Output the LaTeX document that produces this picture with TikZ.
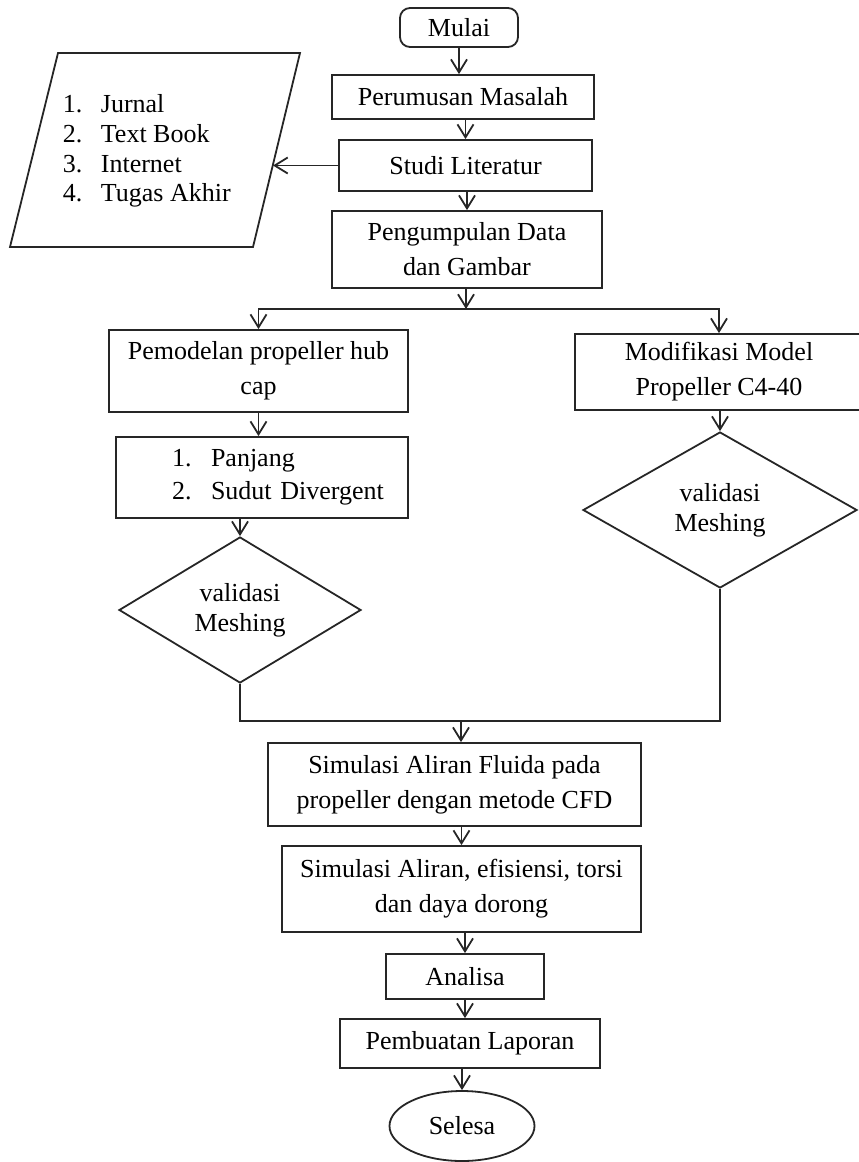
\documentclass[tikz,border=0pt]{standalone}
\usepackage{fontspec}
\setmainfont{Liberation Serif}
\usepackage{tikz}
\usetikzlibrary{shapes.geometric}
\usetikzlibrary{arrows.meta}
\tikzset{process/.style={draw, rectangle, align=center, inner sep=0pt}}
\tikzset{terminal/.style={draw, rounded corners=5pt, inner sep=0pt}}
\tikzset{decision/.style={draw, diamond, aspect=1.66, inner sep=0pt, align=center, font=\fontsize{13}{15}\selectfont}}
\tikzset{every edge/.style={draw}}

\begin{document}
\begin{tikzpicture}[x=0.5pt, y=-0.5pt, line width=0.9pt, draw=black!85, >={Straight Barb[length=6.5pt,width=8pt]}, font=\fontsize{13}{17.5}\selectfont]
  \useasboundingbox (0, 0) rectangle (858, 1162);

  \node[terminal, minimum width=59pt, minimum height=19.5pt] at (459, 27.5) (mulai) {Mulai};
  \node[process, minimum width=131pt, minimum height=22pt] at (463, 97) (perumusan) {Perumusan Masalah};
  \node[process, minimum width=126.5pt, minimum height=25.5pt] at (465.5, 165.5) (studi) {Studi Literatur};
  \node[process, minimum width=135pt, minimum height=38.5pt] at (467, 249.5) (data) {Pengumpulan Data\\dan Gambar};

  % sumber literatur
  \draw (58, 53) -- (300, 53) -- (253, 247) -- (10, 247) -- cycle;
  \node[anchor=west, align=left, inner sep=0pt, font=\fontsize{13}{14.8}\selectfont] at (62, 151) (sumber)
    {\makebox[19pt][l]{1.}Jurnal\\\makebox[19pt][l]{2.}Text Book\\\makebox[19pt][l]{3.}Internet\\\makebox[19pt][l]{4.}Tugas Akhir};
  \coordinate (sumberedge) at (273, 165.5);

  \node[process, minimum width=149.5pt, minimum height=41pt] at (258.5, 371) (pemodelan) {Pemodelan propeller hub\\cap};
  \node[process, minimum width=144pt, minimum height=38pt] at (719, 372) (modif) {Modifikasi Model\\Propeller C4-40};
  \node[process, text width=146pt, align=left, minimum height=40.5pt, font=\fontsize{13}{16.5}\selectfont] at (262, 477.5) (panjang)
    {\hspace*{28pt}\makebox[19.5pt][l]{1.}Panjang\\\hspace*{28pt}\makebox[19.5pt][l]{2.}Sudut Divergent};

  \node[decision, minimum width=121pt, minimum height=73pt] at (240, 610) (vd1) {validasi\\Meshing};
  \node[decision, minimum width=137pt, minimum height=78pt] at (720, 510) (vd2) {validasi\\Meshing};

  \node[process, minimum width=186.5pt, minimum height=41.5pt] at (454.5, 784.5) (sim1) {Simulasi Aliran Fluida pada\\propeller dengan metode CFD};
  \node[process, minimum width=179.5pt, minimum height=43pt] at (461.5, 889) (sim2) {Simulasi Aliran, efisiensi, torsi\\dan daya dorong};
  \node[process, minimum width=79pt, minimum height=22.5pt] at (465, 976.5) (analisa) {Analisa};
  \node[process, minimum width=130pt, minimum height=24.5pt] at (470, 1043.5) (laporan) {Pembuatan Laporan};
  \node[draw, ellipse, inner sep=0pt, minimum width=72.5pt, minimum height=35pt] at (462, 1126) (selesa) {Selesa};

  \coordinate (split) at (466, 309);
  \coordinate (merge) at (461, 721);

  \draw (mulai.south) edge[->] (mulai.south |- perumusan.north);
  \draw (studi.north |- perumusan.south) edge[->] (studi.north);
  \draw (data.north |- studi.south) edge[->] (data.north);
  \draw (studi.west) edge[->] (sumberedge);

  \draw (split |- data.south) edge[->] (split);
  \draw[->] (split) -| (pemodelan.north);
  \draw[->] (split) -| (modif.north);

  \draw (pemodelan.south) edge[->] (pemodelan.south |- panjang.north);
  \draw (vd1.north |- panjang.south) edge[->] (vd1.north);
  \draw (vd2.north |- modif.south) edge[->] (vd2.north);

  \draw (vd1.south) |- (merge) -| (vd2.south);
  \draw (merge) edge[->] (merge |- sim1.north);

  \draw (sim2.north |- sim1.south) edge[->] (sim2.north);
  \draw (analisa.north |- sim2.south) edge[->] (analisa.north);
  \draw (analisa.south) edge[->] (analisa.south |- laporan.north);
  \draw (selesa.north |- laporan.south) edge[->] (selesa.north);
\end{tikzpicture}
\end{document}
